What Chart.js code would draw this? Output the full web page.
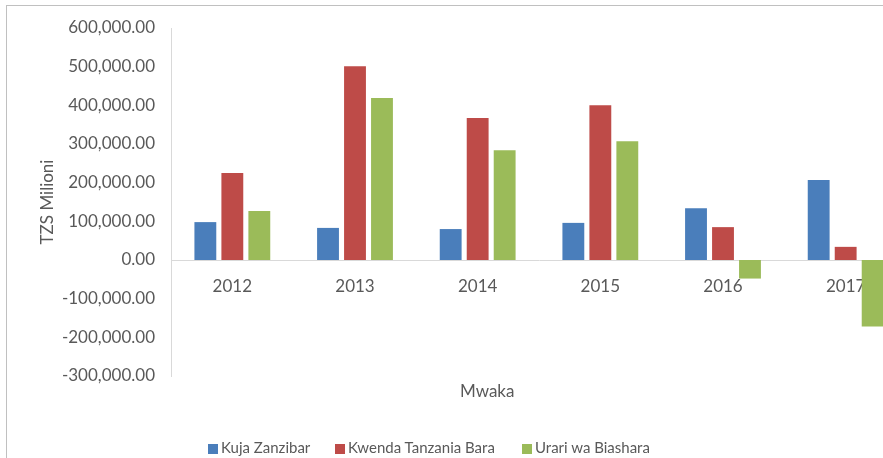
<!DOCTYPE html>
<html>
<head>
<meta charset="utf-8">
<script src="https://cdn.jsdelivr.net/npm/chart.js@4/dist/chart.umd.min.js"></script>
<style>
    html, body { margin: 0; padding: 0; background: #fff; }
    #wrap { position: relative; width: 883px; height: 458px; overflow: hidden; }
    #frame { position: absolute; left: 6px; top: 5px; right: 0; bottom: 0;
             border-top: 1px solid #c0c0c0; border-left: 1px solid #c0c0c0; }
    #plot { position: absolute; left: 0; top: 0; width: 910px; height: 458px; }
    #xtitle { position: absolute; top: 380px; left: 460px; font: 17px Lato, sans-serif; color: #595959; }
    #legend { position: absolute; top: 438px; left: 208px; font: 15px Lato, sans-serif; color: #595959; }
    #legend span.item { position: absolute; white-space: nowrap; }
    #legend i { display: inline-block; width: 10px; height: 10px; margin-right: 3px; vertical-align: -1px; }
</style>
</head>
<body>
<div id="wrap">
    <div id="frame"></div>
    <div id="plot"><canvas id="chart" width="910" height="458"></canvas></div>
    <div id="xtitle">Mwaka</div>
    <div id="legend"></div>
</div>
<script>
const years = ['2012', '2013', '2014', '2015', '2016', '2017'];
const kujaZanzibar = [98000, 83000, 80000, 96000, 134000, 207000];
const kwendaBara = [225000, 501000, 367000, 400000, 85000, 34000];
const urari = [127000, 419000, 284000, 307000, -48000, -172000];
const seriesNames = ['Kuja Zanzibar', 'Kwenda Tanzania Bara', 'Urari wa Biashara'];
const seriesColors = ['#4a7ebb', '#be4b48', '#9bbb59'];

// legend in html so it can sit off-centre like the original
const legendOffsets = [0, 127, 314];
const legend = document.getElementById('legend');
seriesNames.forEach((name, i) => {
    const item = document.createElement('span');
    item.className = 'item';
    item.style.left = legendOffsets[i] + 'px';
    item.innerHTML = '<i style="background:' + seriesColors[i] + '"></i>' + name;
    legend.appendChild(item);
});

const ctx = document.getElementById('chart');
new Chart(ctx, {
    type: 'bar',
    data: {
        labels: years,
        datasets: [kujaZanzibar, kwendaBara, urari].map((values, i) => ({
            label: seriesNames[i],
            data: values,
            backgroundColor: seriesColors[i],
            borderWidth: 0,
            categoryPercentage: 0.66,
            barPercentage: 0.81
        }))
    },
    options: {
        responsive: false,
        animation: false,
        layout: {
            padding: { left: 30, top: 28, right: 3, bottom: 82 }
        },
        plugins: {
            legend: { display: false },
            tooltip: { enabled: false }
        },
        scales: {
            x: {
                position: { y: 0 },
                grid: { display: false },
                border: { display: true, color: '#d9d9d9', width: 1 },
                ticks: {
                    color: '#595959',
                    font: { family: 'Lato', size: 17 },
                    padding: 8
                }
            },
            y: {
                min: -300000,
                max: 600000,
                grid: { display: false, drawTicks: false },
                border: { display: true, color: '#d9d9d9', width: 1 },
                ticks: {
                    stepSize: 100000,
                    color: '#595959',
                    font: { family: 'Lato', size: 17 },
                    padding: 16,
                    callback: v => v.toLocaleString('en-US', { minimumFractionDigits: 2, maximumFractionDigits: 2 })
                },
                title: {
                    display: true,
                    text: 'TZS Milioni',
                    color: '#595959',
                    font: { family: 'Lato', size: 17 },
                    padding: { top: 7, bottom: 4 }
                },
                afterFit: scale => { scale.width = 141; }
            }
        }
    }
});
</script>
</body>
</html>
